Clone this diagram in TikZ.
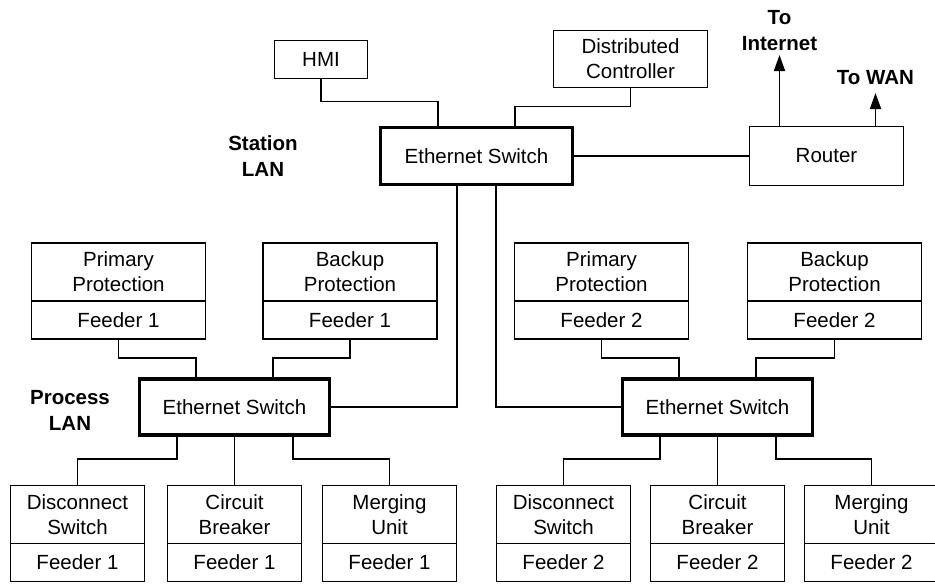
\documentclass[tikz,border=0pt]{standalone}
\usepackage{fontspec}
\setmainfont{Liberation Sans}
\usepackage{tikz}
\usetikzlibrary{positioning,arrows.meta}

\tikzset{
  unit/.style={draw, line width=1.3pt, inner sep=0pt, outer sep=0pt, align=center, font=\fontsize{20.5}{25}\selectfont},
  upper/.style={unit, minimum width=174pt, minimum height=58pt},
  lower/.style={unit, minimum width=174pt, minimum height=38pt},
  devupper/.style={unit, minimum width=134pt, minimum height=58pt},
  devlower/.style={unit, minimum width=134pt, minimum height=38pt},
  switchbox/.style={unit, line width=3.2pt, minimum width=190pt, minimum height=56pt},
  lanlabel/.style={align=center, inner sep=0pt, font=\fontsize{20.5}{26}\selectfont\bfseries},
  wire/.style={line width=1.3pt},
  uplink/.style={line width=1.8pt, -{Triangle[length=16pt,width=11pt]}},
}

\begin{document}
\begin{tikzpicture}[x=1pt,y=1pt,yscale=-1,xscale=1]
\useasboundingbox (0,0) rectangle (935,584);

%Station level
\node[unit, minimum width=93pt, minimum height=38pt] (hmi) at (321,59.5) {HMI};
\node[unit, minimum width=154pt, minimum height=57pt] (dc) at (630.5,59) {Distributed\\Controller};
\node[switchbox, minimum width=192pt, minimum height=57pt] (sw0) at (476.5,156) {Ethernet Switch};
\node[unit, minimum width=154pt, minimum height=59pt] (router) at (826.5,156) {Router};

% Text Node
\node[lanlabel] (stationlan) at (263,156) {Station\\LAN};
% Text Node
\node[lanlabel] (inet) at (779.5,31) {To\\Internet};
% Text Node
\node[lanlabel] (wan) at (875.5,78) {To WAN};
\coordinate (inettip) at (779.5,55);
\coordinate (wantip) at (875.5,93);

%Process switches
\node[switchbox] (sw1) at (234.5,407) {Ethernet Switch};
\node[switchbox] (sw2) at (717.5,407) {Ethernet Switch};

% Text Node
\node[lanlabel] (processlan) at (70,410) {Process\\LAN};

%Protection relays
\node[upper] (pp1) at (118.5,272) {Primary\\Protection};
\node[lower, below=0pt of pp1] (pp1f) {Feeder 1};
\node[upper] (bp1) at (350,272) {Backup\\Protection};
\node[lower, below=0pt of bp1] (bp1f) {Feeder 1};
\node[upper] (pp2) at (601.5,272) {Primary\\Protection};
\node[lower, below=0pt of pp2] (pp2f) {Feeder 2};
\node[upper] (bp2) at (834.5,272) {Backup\\Protection};
\node[lower, below=0pt of bp2] (bp2f) {Feeder 2};

%Field devices
\node[devupper] (ds1) at (77.5,514.5) {Disconnect\\Switch};
\node[devlower, below=0pt of ds1] (ds1f) {Feeder 1};
\node[devupper] (cb1) at (234.5,514.5) {Circuit\\Breaker};
\node[devlower, below=0pt of cb1] (cb1f) {Feeder 1};
\node[devupper] (mu1) at (389.5,514.5) {Merging\\Unit};
\node[devlower, below=0pt of mu1] (mu1f) {Feeder 1};
\node[devupper] (ds2) at (563.5,514.5) {Disconnect\\Switch};
\node[devlower, below=0pt of ds2] (ds2f) {Feeder 2};
\node[devupper] (cb2) at (717.5,514.5) {Circuit\\Breaker};
\node[devlower, below=0pt of cb2] (cb2f) {Feeder 2};
\node[devupper] (mu2) at (871.5,514.5) {Merging\\Unit};
\node[devlower, below=0pt of mu2] (mu2f) {Feeder 2};

%Station LAN links
\draw[wire] (hmi.south) -- ++(0,23) -| ([xshift=-38.5pt]sw0.north);
\draw[wire] (dc.south) -- ++(0,19) -| ([xshift=38.5pt]sw0.north);
\draw[wire] (sw0.east) -- (router.west);
\draw[uplink] (router.north -| inettip) -- (inettip);
\draw[uplink] (router.north -| wantip) -- (wantip);
\draw[wire] ([xshift=-19.5pt]sw0.south) |- (sw1.east);
\draw[wire] ([xshift=19.5pt]sw0.south) |- (sw2.west);

%Protection links
\draw[wire] (pp1f.south) -- ++(0,19) -| ([xshift=-38.5pt]sw1.north);
\draw[wire] (bp1f.south) -- ++(0,19) -| ([xshift=38.5pt]sw1.north);
\draw[wire] (pp2f.south) -- ++(0,19) -| ([xshift=-38.5pt]sw2.north);
\draw[wire] (bp2f.south) -- ++(0,19) -| ([xshift=38.5pt]sw2.north);

%Process LAN links
\draw[wire] ([xshift=-57.5pt]sw1.south) -- ++(0,24) -| (ds1.north);
\draw[wire] (sw1.south) -- (cb1.north);
\draw[wire] ([xshift=58.5pt]sw1.south) -- ++(0,24) -| (mu1.north);
\draw[wire] ([xshift=-57.5pt]sw2.south) -- ++(0,24) -| (ds2.north);
\draw[wire] (sw2.south) -- (cb2.north);
\draw[wire] ([xshift=58.5pt]sw2.south) -- ++(0,24) -| (mu2.north);

\end{tikzpicture}
\end{document}
